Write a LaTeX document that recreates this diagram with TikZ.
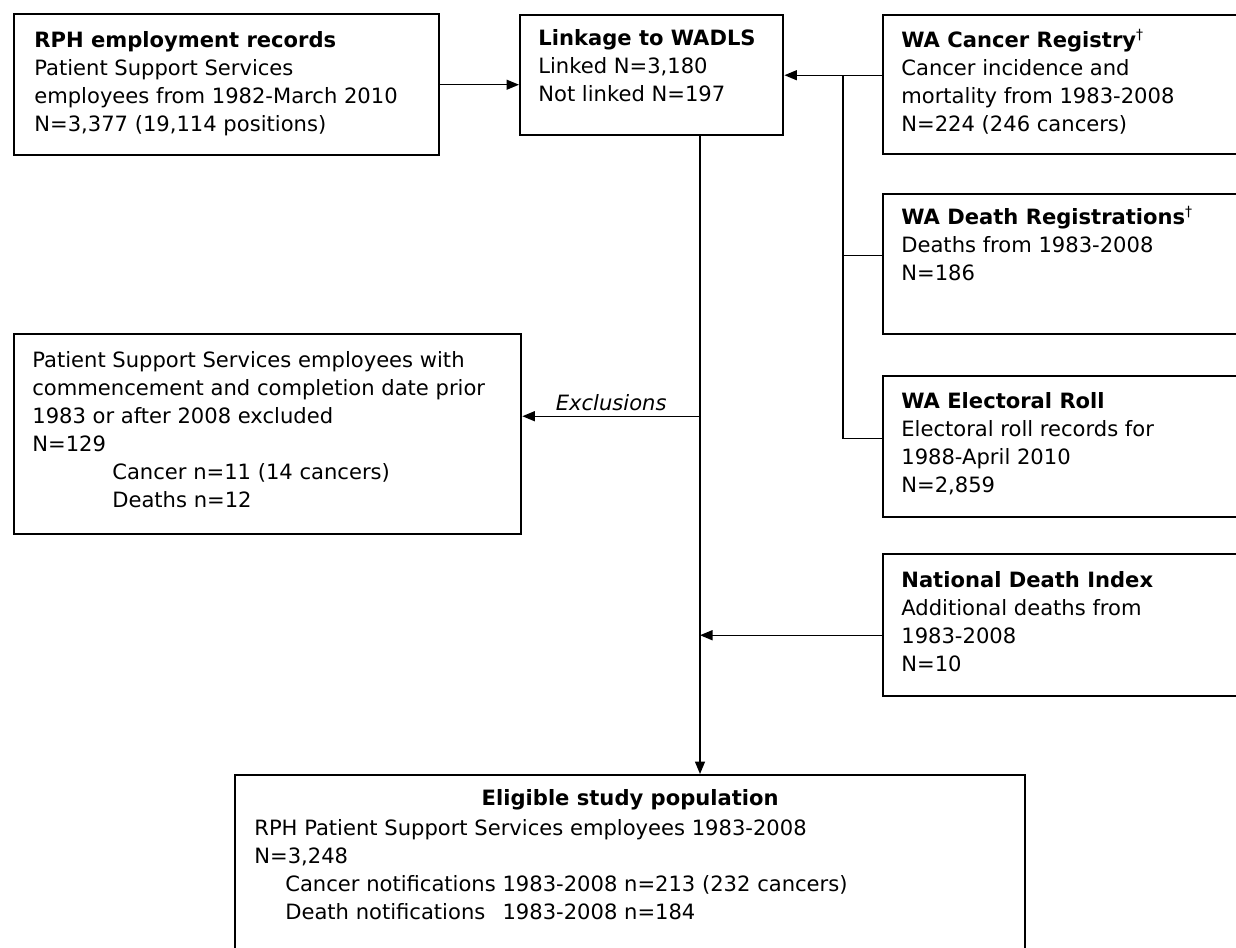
\documentclass[tikz,border=0pt]{standalone}
\usepackage{fontspec}
\setmainfont{DejaVu Sans}
\usetikzlibrary{arrows.meta}

\begin{document}
\begin{tikzpicture}[x=0.02cm, y=-0.02cm,
    frame/.style={draw, line width=1.4pt, anchor=north west, inner sep=0},
    txt/.style={anchor=north west, align=left, inner sep=0, font=\fontsize{12}{15.9}\selectfont},
    conn/.style={line width=0.8pt},
    arr/.style={line width=0.8pt, -{Triangle[length=0.25cm, width=0.2cm]}}]
      \clip (0,0) rectangle (1236,947);
      % frames
      \node [frame, minimum width=8.5cm, minimum height=2.82cm] (rph) at (13,13) {};
      \node [frame, minimum width=5.26cm, minimum height=2.4cm] (link) at (519,14) {};
      \node [frame, minimum width=7.6cm, minimum height=2.78cm] (canc) at (882,14) {};
      \node [frame, minimum width=7.6cm, minimum height=2.8cm] (death) at (882,193) {};
      \node [frame, minimum width=7.6cm, minimum height=2.82cm] (elect) at (882,375) {};
      \node [frame, minimum width=7.6cm, minimum height=2.84cm] (ndi) at (882,553) {};
      \node [frame, minimum width=10.14cm, minimum height=4cm] (excl) at (13,333) {};
      \node [frame, minimum width=15.8cm, minimum height=4cm] (elig) at (234,774) {};
      % texts
      \node [txt] (rphtext) at ([shift={(0.42cm,-0.36cm)}]rph.north west) {\textbf{RPH employment records}\\Patient Support Services\\employees from 1982-March 2010\\N=3,377 (19,114 positions)};
      \node [txt] (linktext) at ([shift={(0.38cm,-0.3cm)}]link.north west) {\textbf{Linkage to WADLS}\\Linked N=3,180\\Not linked N=197};
      \node [txt] (canctext) at ([shift={(0.38cm,-0.3cm)}]canc.north west) {\textbf{WA Cancer Registry}\textsuperscript{†}\\Cancer incidence and\\mortality from 1983-2008\\N=224 (246 cancers)};
      \node [txt] (deathtext) at ([shift={(0.38cm,-0.26cm)}]death.north west) {\textbf{WA Death Registrations}\textsuperscript{†}\\Deaths from 1983-2008\\N=186};
      \node [txt] (electtext) at ([shift={(0.38cm,-0.34cm)}]elect.north west) {\textbf{WA Electoral Roll}\\Electoral roll records for\\1988-April 2010\\N=2,859};
      \node [txt] (nditext) at ([shift={(0.38cm,-0.36cm)}]ndi.north west) {\textbf{National Death Index}\\Additional deaths from\\1983-2008\\N=10};
      \node [txt] (excltext) at ([shift={(0.38cm,-0.36cm)}]excl.north west) {Patient Support Services employees with\\commencement and completion date prior\\1983 or after 2008 excluded\\N=129\\\hspace*{1.6cm}Cancer n=11 (14 cancers)\\\hspace*{1.6cm}Deaths n=12};
      \node [txt, anchor=north] (eligtitle) at ([yshift=-0.3cm]elig.north) {\textbf{Eligible study population}};
      \node [txt] (eligtext) at ([shift={(0.4cm,-0.9cm)}]elig.north west) {RPH Patient Support Services employees 1983-2008\\N=3,248\\\hspace*{0.62cm}Cancer notifications 1983-2008 n=213 (232 cancers)\\\hspace*{0.62cm}\rlap{Death notifications}\phantom{Cancer notifications} 1983-2008 n=184};
      % connectors
      \coordinate (trunk) at (700,0);
      \coordinate (bus) at (843,0);
      \draw [arr] (rph.east) -- (link.west |- rph.east);
      \draw [arr] (canc.west |- link.east) -- (link.east);
      \draw [conn] (bus |- link.east) -- ([yshift=0.17cm]elect.west -| bus) -- ([yshift=0.17cm]elect.west);
      \draw [conn] ([yshift=0.18cm]death.west -| bus) -- ([yshift=0.18cm]death.west);
      \draw [arr] (link.south -| trunk) -- (elig.north -| trunk);
      \draw [arr] ([yshift=0.36cm]excl.east -| trunk) -- ([yshift=0.36cm]excl.east) node [midway, above=0.1cm, txt, anchor=south, font=\fontsize{12}{15.9}\selectfont\itshape] (exlabel) {Exclusions};
      \draw [arr] ([yshift=-0.2cm]ndi.west) -- ([yshift=-0.2cm]ndi.west -| trunk);
\end{tikzpicture}
\end{document}
